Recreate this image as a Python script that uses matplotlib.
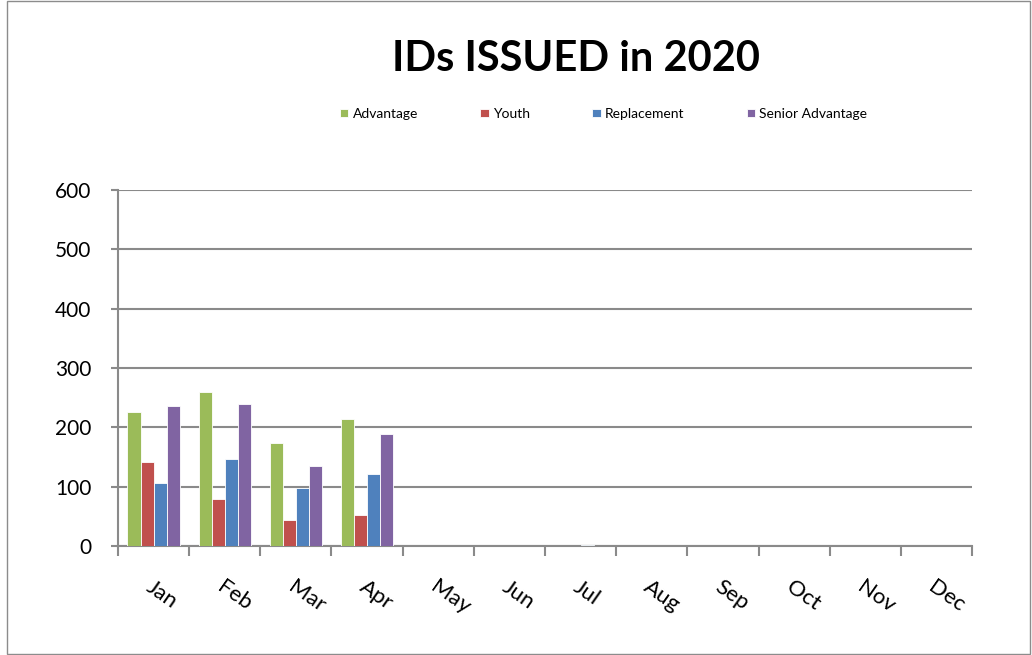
import numpy as np
import matplotlib.pyplot as plt
from matplotlib.patches import Rectangle

plt.rcParams['font.family'] = ['Lato', 'DejaVu Sans']

months = ['Jan', 'Feb', 'Mar', 'Apr', 'May', 'Jun', 'Jul', 'Aug', 'Sep', 'Oct', 'Nov', 'Dec']
advantage = [226, 260, 174, 214, 0, 0, 0, 0, 0, 0, 0, 0]
youth = [142, 79, 43, 52, 0, 0, 0, 0, 0, 0, 0, 0]
replacement = [107, 147, 97, 121, 0, 0, 2, 0, 0, 0, 0, 0]
senior = [236, 239, 135, 189, 0, 0, 0, 0, 0, 0, 0, 0]

series = [('Advantage', advantage, '#9BBB59'),
          ('Youth', youth, '#C0504D'),
          ('Replacement', replacement, '#4F81BD'),
          ('Senior Advantage', senior, '#8064A2')]

fig = plt.figure(figsize=(10.32, 6.55), dpi=100)
fig.patches.append(Rectangle((0.007, 0.002), 0.991, 0.996, transform=fig.transFigure,
                             fill=False, edgecolor='#8c8c8c', linewidth=1))
ax = fig.add_axes([0.1143, 0.1664, 0.8276, 0.5435])

x = np.arange(len(months))
w = 0.183
for i, (name, vals, col) in enumerate(series):
    ax.bar(x + (i - 1.5) * w, vals, w, color=col, edgecolor='white', linewidth=0.6,
           label=name, zorder=3)

ax.set_xlim(-0.5, 11.5)
ax.set_ylim(0, 600)
ax.set_yticks(range(0, 601, 100))
ax.grid(axis='y', color='#8a8a8a', linewidth=1.5, zorder=0)
for s in ['top', 'right']:
    ax.spines[s].set_visible(False)
ax.spines['left'].set_color('#8a8a8a')
ax.spines['bottom'].set_color('#8a8a8a')
ax.spines['left'].set_linewidth(1.5)
ax.spines['bottom'].set_linewidth(1.5)

ax.set_xticks(x)
ax.set_xticklabels(months, rotation=-35, ha='left', va='top', rotation_mode='anchor', fontsize=16)
ax.tick_params(axis='x', which='major', length=0, pad=22)
ax.set_xticks(np.arange(-0.5, 12, 1), minor=True)
ax.tick_params(axis='x', which='minor', length=7, width=1.5, color='#8a8a8a', direction='out')
ax.tick_params(axis='y', length=5, width=1.5, color='#8a8a8a', labelsize=15, pad=14)

fig.text(0.558, 0.91, 'IDs ISSUED in 2020', ha='center', va='center', fontsize=30, fontweight='bold')
fig.legend(loc='center', bbox_to_anchor=(0.585, 0.826), ncol=4, frameon=False, fontsize=10,
           handlelength=0.6, handleheight=0.6, handletextpad=0.3, columnspacing=4.5)

fig.savefig('out.png', dpi=100)
